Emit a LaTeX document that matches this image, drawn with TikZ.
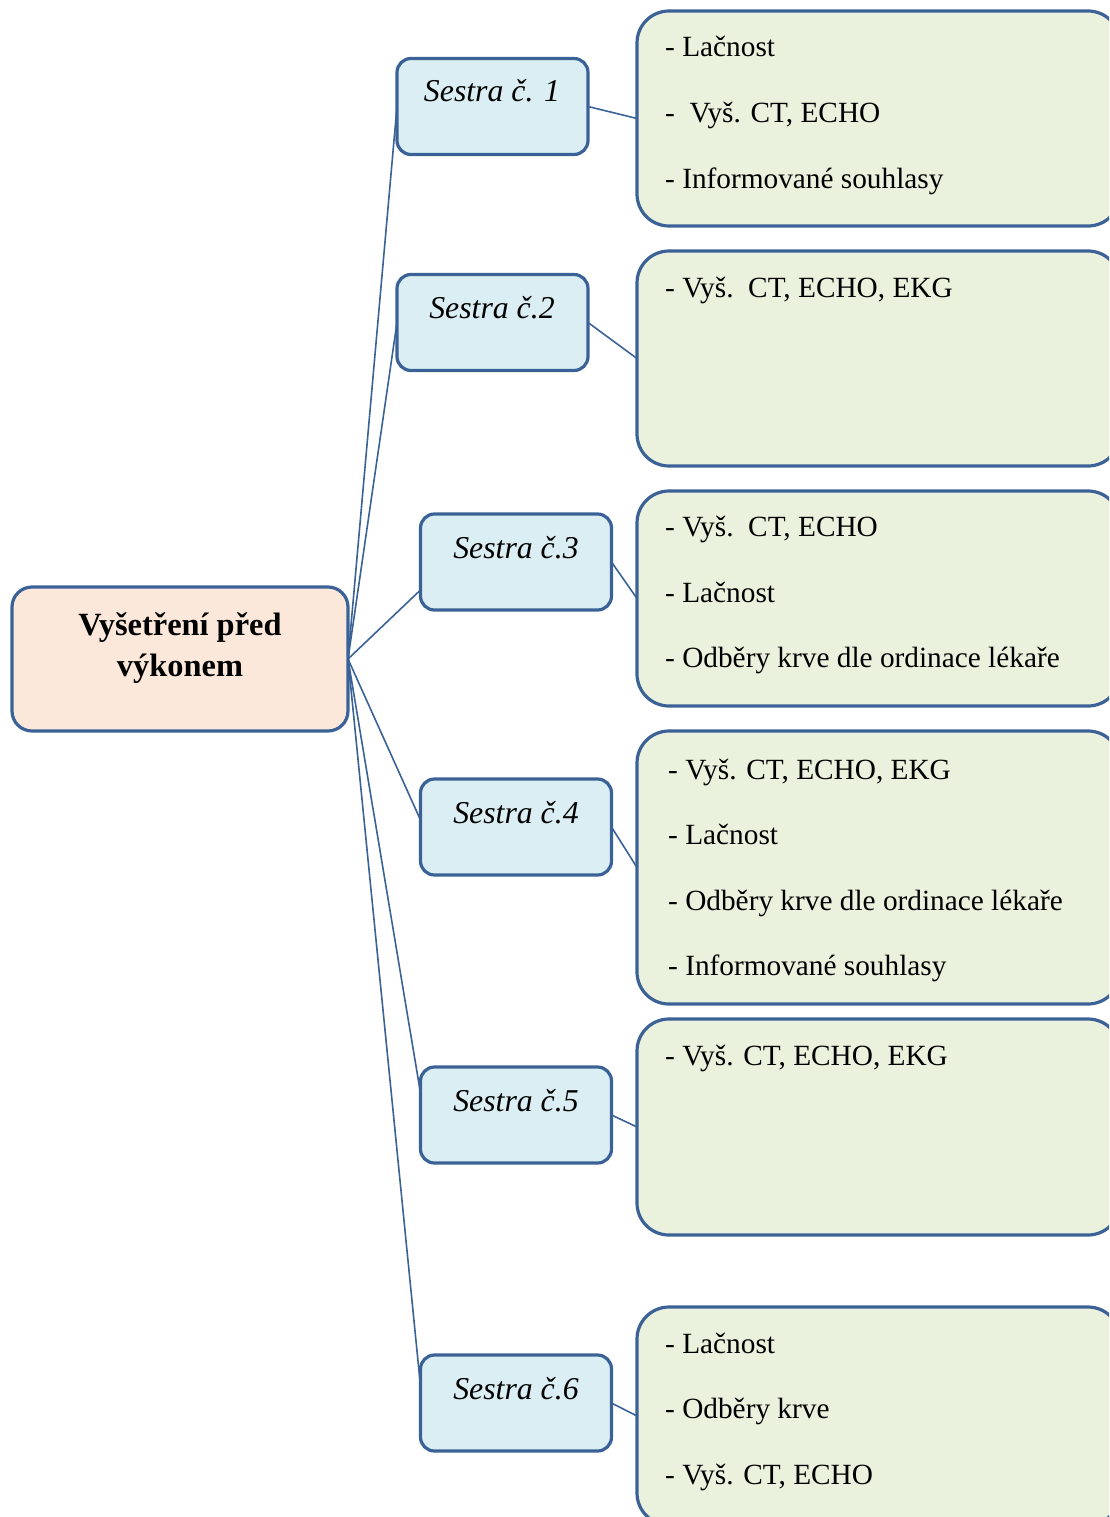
\documentclass[tikz,border=0pt]{standalone}
\usepackage{fontspec}
\setmainfont{Liberation Serif}
\definecolor{edge}{HTML}{3A6296}
\definecolor{rootfill}{HTML}{FCE8DA}
\definecolor{nursefill}{HTML}{DBEEF4}
\definecolor{taskfill}{HTML}{EAF1DD}
\begin{document}
\begin{tikzpicture}[x=1pt,y=-1pt,
  frame/.style={draw=edge, line width=3.2pt, inner sep=0pt, outer sep=0pt},
  rootbox/.style={frame, fill=rootfill, rounded corners=20pt, minimum width=336pt, minimum height=144pt},
  nursebox/.style={frame, fill=nursefill, rounded corners=14pt, minimum width=191pt, minimum height=96pt},
  taskbox/.style={frame, fill=taskfill, rounded corners=32pt, minimum width=483pt},
  link/.style={draw=edge, line width=1.6pt},
  roottext/.style={anchor=base, inner sep=0pt, font=\fontsize{32.4}{38}\selectfont\bfseries},
  nursetext/.style={anchor=base, inner sep=0pt, font=\fontsize{31.8}{38}\selectfont\itshape},
  item/.style={anchor=base west, inner sep=0pt, font=\fontsize{29.3}{35}\selectfont}
]
\useasboundingbox (0,0) rectangle (1109,1517);
\clip (0,0) rectangle (1109,1517);

% root
\node[rootbox] (root) at (180,659) {};
\node[roottext] (rootA) at (180,635) {Vyšetření před};
\node[roottext] (rootB) at (180,676) {výkonem};

% nurses
\node[nursebox] (s1) at (492.5,106.5) {};
\node[nursebox] (s2) at (492.5,322.5) {};
\node[nursebox] (s3) at (516,562) {};
\node[nursebox] (s4) at (516,827) {};
\node[nursebox] (s5) at (516,1115) {};
\node[nursebox] (s6) at (516,1403) {};
\node[nursetext] (n1) at (492,102) {Sestra č. 1};
\node[nursetext] (n2) at (492,318) {Sestra č.2};
\node[nursetext] (n3) at (516,558) {Sestra č.3};
\node[nursetext] (n4) at (516,823) {Sestra č.4};
\node[nursetext] (n5) at (516,1111) {Sestra č.5};
\node[nursetext] (n6) at (516,1399) {Sestra č.6};

% task boxes
\node[taskbox, minimum height=215pt] (t1) at (878.5,118.5) {};
\node[taskbox, minimum height=215pt] (t2) at (878.5,358.5) {};
\node[taskbox, minimum height=215pt] (t3) at (878.5,598.5) {};
\node[taskbox, minimum height=273pt] (t4) at (878.5,867.5) {};
\node[taskbox, minimum height=216pt] (t5) at (878.5,1127) {};
\node[taskbox, minimum height=218pt] (t6) at (878.5,1416) {};

% connectors
\draw[link] (root.east) -- (s1.west);
\draw[link] (root.east) -- (s2.west);
\draw[link] (root.east) -- ([yshift=-28pt]s3.west);
\draw[link] (root.east) -- ([yshift=7pt]s4.west);
\draw[link] (root.east) -- ([yshift=22pt]s5.west);
\draw[link] (root.east) -- ([yshift=17pt]s6.west);
\foreach \i in {1,...,6} \draw[link] (s\i.east) -- (t\i.west);

% items
\node[item] (a1) at (665,57) {- Lačnost};
\node[item] (a2) at (665,123) {-\ \ Vyš. CT, ECHO};
\node[item] (a3) at (665,189) {- Informované souhlasy};

\node[item] (b1) at (665,297) {- Vyš.\ \ CT, ECHO, EKG};

\node[item] (c1) at (665,536) {- Vyš.\ \ CT, ECHO};
\node[item] (c2) at (665,602) {- Lačnost};
\node[item] (c3) at (665,667) {- Odběry krve dle ordinace lékaře};

\node[item] (d1) at (668,779) {- Vyš. CT, ECHO, EKG};
\node[item] (d2) at (668,844) {- Lačnost};
\node[item] (d3) at (668,910) {- Odběry krve dle ordinace lékaře};
\node[item] (d4) at (668,975) {- Informované souhlasy};

\node[item] (e1) at (665,1065) {- Vyš. CT, ECHO, EKG};

\node[item] (f1) at (665,1353) {- Lačnost};
\node[item] (f2) at (665,1418) {- Odběry krve};
\node[item] (f3) at (665,1484) {- Vyš. CT, ECHO};
\end{tikzpicture}
\end{document}
